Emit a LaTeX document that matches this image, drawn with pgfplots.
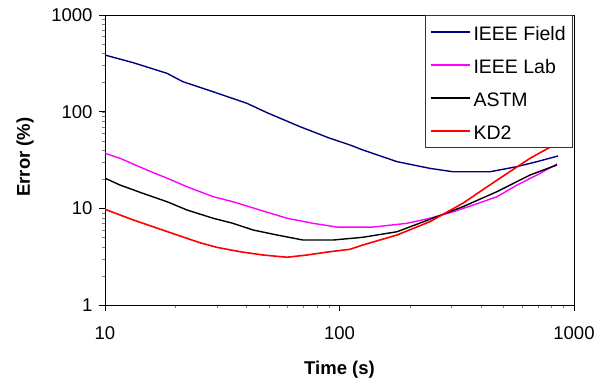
\documentclass[border=0pt]{standalone}
\usepackage{fontspec}
\setmainfont{Liberation Sans}
\usepackage{pgfplots}
\pgfplotsset{compat=1.18}
\definecolor{ieeefield}{RGB}{0,0,128}
\definecolor{ieeelab}{RGB}{255,0,255}
\definecolor{kdred}{RGB}{255,0,0}
\begin{document}
\begin{tikzpicture}
\path[use as bounding box] (-105pt,-78pt) rectangle (498pt,305pt);
\begin{axis}[
  at={(0pt,0pt)}, anchor=south west,
  scale only axis, width=469pt, height=290pt,
  xmode=log, ymode=log,
  xmin=10, xmax=1000, ymin=1, ymax=1000,
  xtick={10,100,1000}, ytick={1,10,100,1000},
  xticklabels={10,100,1000}, yticklabels={1,10,100,1000},
  minor tick num=0, minor xtick={}, minor ytick={},
  tick align=outside, major tick length=6pt,
  xtick pos=bottom, ytick pos=left,
  axis line style={black, line width=0.8pt},
  major tick style={black, line width=0.8pt},
  /pgf/number format/assume math mode=true,
  tick label style={font=\fontsize{18.5}{22}\selectfont},
  xticklabel style={yshift=-12pt},
  yticklabel style={xshift=-3pt},
  xlabel={Time (s)}, ylabel={Error (\%)},
  label style={font=\fontsize{18.5}{22}\selectfont\bfseries},
  xlabel style={at={(axis description cs:0.5,-0.224)}, anchor=center},
  ylabel style={at={(axis description cs:-0.1706,0.51)}, anchor=center},
  legend cell align=left,
  legend image code/.code={\draw[#1] (0pt,0pt) -- (39pt,0pt);},
  legend style={at={(rel axis cs:0.998,1)}, anchor=north east,
    draw=black!80, line width=0.8pt, fill=white,
    font=\fontsize{19.5}{22}\selectfont,
    inner xsep=5pt, inner ysep=6pt,
    nodes={inner sep=2pt, text height=17pt, text depth=0pt},
    row sep=12pt, column sep=1pt},
]
\addplot[color=ieeefield, line width=1.4pt] coordinates {
(10,385) (13.2,321) (18.4,249) (21.5,204) (28.0,165) (40.3,122) (49.1,97.6)
(67.8,70) (91.1,53) (110.9,45.2) (126,40.1) (175.9,30.4) (243.2,25.9)
(304.8,23.9) (438.4,23.9) (571.3,27.0) (695.5,30.4) (854.6,34.8)};
\addlegendentry{IEEE Field}
\addplot[color=ieeelab, line width=1.4pt] coordinates {
(10,37.1) (11.6,32.9) (13.2,28.7) (15.1,24.9) (18.4,20.5) (22.4,16.7)
(28.9,13.2) (35.1,11.7) (45.8,9.6) (59.7,7.9) (77.1,7.0) (97.6,6.4)
(139,6.4) (194,7.0) (243,7.9) (305,9.2) (371,10.8) (470,13.2) (571,17.4)
(695,22.1) (846,28.7)};
\addlegendentry{IEEE Lab}
\addplot[color=black, line width=1.4pt] coordinates {
(10,20.5) (11.6,17.4) (14.5,14.3) (18.4,11.7) (22.4,9.6) (28.9,7.9)
(35.1,7.0) (42.8,5.97) (54.1,5.30) (69.9,4.70) (93.8,4.70) (126,5.02)
(176,5.73) (243,7.70) (336,10.4) (470,14.9) (649,22.1) (846,28.1)};
\addlegendentry{ASTM}
\addplot[color=kdred, line width=1.6pt] coordinates {
(10,9.77) (11.6,8.53) (13.2,7.58) (16.0,6.46) (20.3,5.30) (25.4,4.41)
(30.0,3.95) (37.6,3.56) (47.2,3.29) (59.7,3.12) (72.7,3.29) (91.1,3.56)
(110.9,3.77) (126,4.18) (176,5.30) (243,7.28) (336,11.3) (470,19.6)
(649,32.9) (846,47)};
\addlegendentry{KD2}
\end{axis}
\end{tikzpicture}
\end{document}
